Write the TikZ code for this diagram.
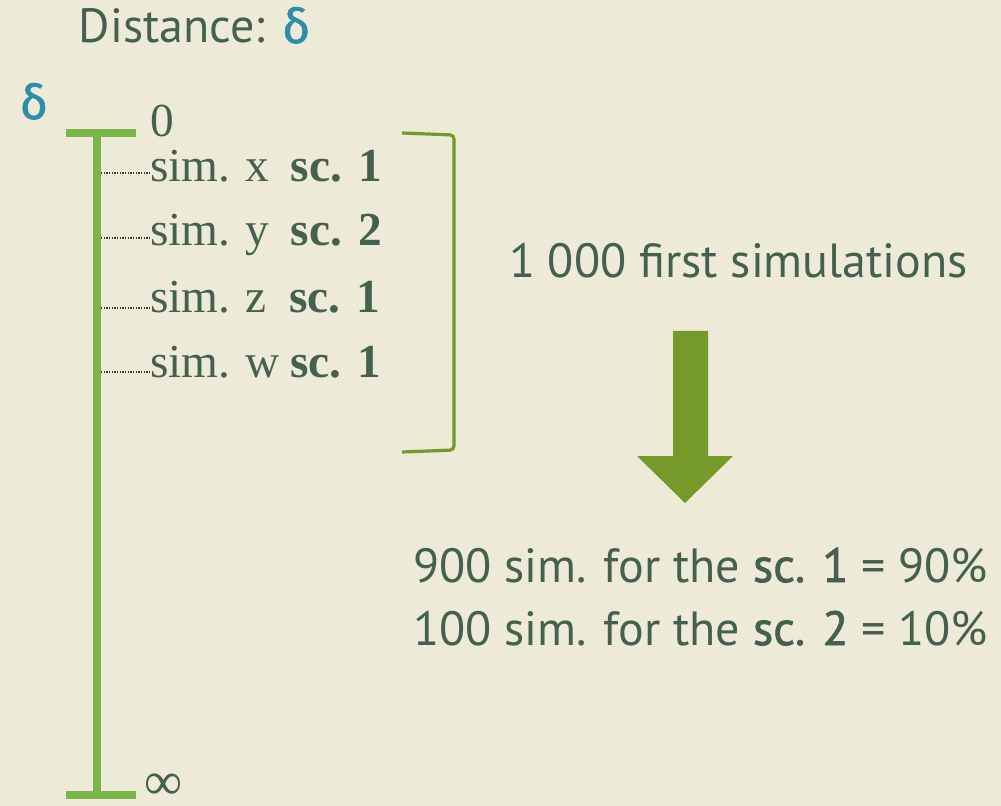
\documentclass[tikz,border=0pt]{standalone}
\usepackage{fontspec}
\setmainfont{Liberation Serif}
\newfontfamily\fg{PT Sans}
\newfontfamily\fgb{PT Sans}[FakeBold=1.5]
\newfontfamily\gr{Fira Sans}[FakeBold=1.2]
\definecolor{bg}{HTML}{EDEAD8}
\definecolor{txt}{HTML}{46604F}
\definecolor{blu}{HTML}{2C8EAA}
\definecolor{lgreen}{HTML}{7AB648}
\definecolor{olive}{HTML}{769A29}
\newcommand{\simrow}[3]{\makebox[#1][l]{#2}\textbf{#3}}
\begin{document}
\begin{tikzpicture}[x=0.75pt,y=-0.75pt,
  every node/.style={inner sep=0pt,outer sep=0pt,text=txt},
  sans/.style={font=\fg\fontsize{36}{42}\selectfont,anchor=base west},
  serif/.style={font=\fontsize{35.5}{42}\selectfont,anchor=base west},
  axis/.style={lgreen,line width=6pt},
  tick/.style={txt!70!black,densely dotted,line width=1pt},
  brk/.style={olive,line width=2.4pt,rounded corners=3pt}]
\fill[bg] (0,0) rectangle (1001,806);
\useasboundingbox (0,0) rectangle (1001,806);
% title
\node[sans] (title) at (79,43) {Distance: \textcolor{blu}{\gr δ}};
\node[sans,text=blu] (delta) at (20,119) {\gr δ};
% axis
\coordinate (top) at (97,133);
\coordinate (bot) at (97,795);
\draw[axis] (top) -- (bot);
\draw[axis] (66,133) -- (136,133);
\draw[axis] (66,795) -- (136,795);
\node[serif] (zero) at (150,137) {0};
\node[serif,font=\fontsize{40}{42}\selectfont,text depth=0pt,text height=16pt] (inf) at (144,799) {∞};
% sims
\node[serif] (sx) at (150,182) {\simrow{105.75pt}{sim. x}{sc. 1}};
\node[serif] (sy) at (150,246) {\simrow{105.75pt}{sim. y}{sc. 2}};
\node[serif] (sz) at (150,313) {\simrow{104.25pt}{sim. z}{sc. 1}};
\node[serif] (sw) at (150,378) {\simrow{105pt}{sim. w}{sc. 1}};
\foreach \n/\y in {sx/173,sy/238,sz/308,sw/372}{
  \coordinate (a\n) at (101,\y);
  \draw[tick] (a\n) -- (\n.west |- a\n);
}
% bracket
\draw[brk] (402,133) -- (454,135) -- (454,450) -- (402,452);
% text right
\node[sans] (first) at (509,278) {1 000 first simulations};
\fill[olive] (673,331) -- (708,331) -- (708,456) -- (733,456) -- (685,503) -- (637,456) -- (673,456) -- cycle;
\node[sans] (l1) at (413,582) {900 sim. for the {\fgb sc. 1} = 90\%};
\node[sans] (l2) at (413,645) {100 sim. for the {\fgb sc. 2} = 10\%};
\end{tikzpicture}
\end{document}
